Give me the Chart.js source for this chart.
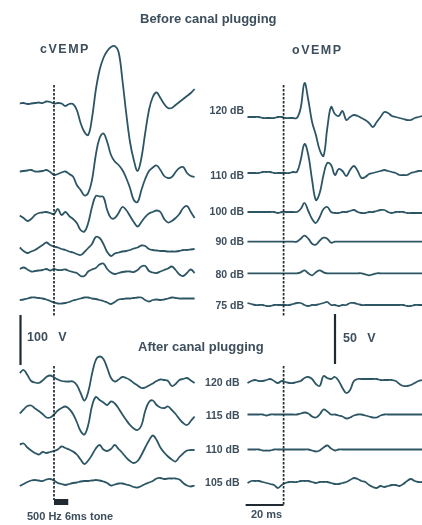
<!DOCTYPE html>
<html>
<head>
<meta charset="utf-8">
<script src="https://cdn.jsdelivr.net/npm/chart.js@4.4.1/dist/chart.umd.min.js"></script>
<style>
  body { margin: 0; background: #fff; }
  #wrap { position: relative; width: 422px; height: 525px; overflow: hidden;
    font-family: "Liberation Sans", Arial, sans-serif; color: #3d4e5c; font-weight: bold; }
  #wrap canvas { position: absolute; left: 0; top: 0; }
  .t { position: absolute; white-space: pre; line-height: 1; transform: translateY(-50%); }
  .r { text-align: right; transform: translate(-100%, -50%); }
  .h { font-size: 13px; }
  .p { font-size: 12.5px; letter-spacing: 1.5px; }
  .db { font-size: 10.5px; }
  .sc { font-size: 12.5px; }
  .sm { font-size: 11px; }
</style>
</head>
<body>
<div id="wrap">
  <canvas id="vemp" width="422" height="525"></canvas>
  <div class="t h" style="left:140px;top:18px">Before canal plugging</div>
  <div class="t p" style="left:40px;top:49px">cVEMP</div>
  <div class="t p" style="left:292px;top:50px">oVEMP</div>
  <div id="dbBefore"></div>
  <div id="dbAfter"></div>
  <div class="t sc" style="left:27px;top:337px">100   V</div>
  <div class="t sc" style="left:343px;top:338px">50   V</div>
  <div class="t h" style="left:138px;top:346px">After canal plugging</div>
  <div class="t sm" style="left:27px;top:516px">500 Hz 6ms tone</div>
  <div class="t sm" style="left:251px;top:514px">20 ms</div>
</div>
<script>
'use strict';

// stimulus levels (dB)
var levelsBefore = ['120 dB', '110 dB', '100 dB', '90 dB', '80 dB', '75 dB'];
var levelsAfter = ['120 dB', '115 dB', '110 dB', '105 dB'];

// sampling of the traces, ms
var stepMs = 2;
var cStartMs = -18;
var oStartMs = -19;

// cVEMP, before plugging (uV)
var c120 = [0,1,-1,0,1,2,1,4,3,0,1,0,-5,-1,-1,-13,-39,-57,-63,-29,27,67,91,105,113,115,103,47,-19,-77,-113,-135,-109,-59,-13,13,22,11,-1,-9,-9,-3,3,9,15,21,29];
var c110 = [3,4,5,6,3,3,4,6,2,-4,-2,1,3,-2,-7,-24,-34,-45,-40,-14,36,70,79,62,36,23,16,6,-10,-30,-54,-58,-34,-12,4,11,15,6,-6,-10,-8,2,10,12,0,-6,-8];
var c100 = [-1,-6,-12,-8,0,4,5,6,4,2,12,0,6,-2,-8,-16,-30,-33,-16,16,38,37,36,10,-6,-6,4,16,10,-2,-14,-23,-14,-4,3,6,9,6,-8,-15,-12,-6,2,14,18,6,-6];
var c90 = [3,-4,-8,-5,-2,3,8,13,8,5,3,0,-2,-5,-7,-10,-12,-6,2,10,24,22,10,-6,-14,-9,-7,-5,-4,-2,1,3,7,6,0,-2,-3,-4,-4,-5,-5,-5,-4,-2,-2,-1,0];
var c80 = [2,5,1,-3,-2,-1,0,2,-1,2,0,0,1,-2,-4,-6,-12,-12,-3,1,4,11,13,2,-5,-8,-6,-4,-3,-3,-4,0,7,8,-2,-5,-6,-3,0,3,7,0,-9,-12,-6,1,-6];
var c75 = [0,1,3,5,5,4,3,1,-2,-5,-7,-7,-6,-4,-1,1,3,5,5,3,2,0,-2,-5,-8,-4,1,2,3,3,4,5,5,0,-3,0,1,0,1,3,5,4,3,3,3,3,3];

// cVEMP, after plugging (uV)
var cA120 = [10,16,6,-6,-9,-10,-5,2,5,1,-3,-6,-7,-7,-7,-14,-30,-45,-28,8,36,43,38,20,0,-7,-3,2,0,-4,-10,-15,-20,-19,-15,-11,-6,-3,-4,-6,-16,-12,-4,-2,0,-5,-10];
var cA115 = [-3,5,12,13,7,2,-4,-11,-11,-5,3,8,11,6,-4,-20,-38,-45,-26,12,30,24,19,14,21,17,7,-5,-16,-26,-33,-36,-27,2,20,23,14,9,8,11,4,-4,-14,-22,-26,-18,-9];
var cA110 = [11,13,5,-1,-6,-9,-4,-6,-4,-2,1,7,4,1,-3,-9,-19,-28,-21,-10,3,10,1,-2,2,10,2,-6,-15,-22,-26,-22,-10,5,19,29,20,5,-5,-13,-19,-23,-14,-7,-1,0,0];
var cA105 = [-8,-4,0,3,4,3,2,5,6,3,-2,-4,-6,-4,-2,-1,1,2,2,3,4,3,1,-2,-7,-5,-3,-3,-5,-7,-10,-11,-8,-4,-1,2,7,8,6,7,7,7,5,-2,-7,-9,-7];

// oVEMP, before plugging (uV)
var o120 = [1,1,1,1,0,0,0,0,1,1,0,0,0,0,10,35,18,-4,-17,-32,-38,-10,11,4,2,7,-2,1,3,2,0,-2,-5,-9,-4,1,6,5,2,1,0,-1,-2,-2,0,1,2];
var o110 = [0,0,0,0,1,1,1,0,0,0,0,0,1,1,13,29,18,-7,-27,-20,-2,10,8,-2,4,2,-3,3,7,2,-5,-4,-1,0,1,2,3,2,1,0,-2,-2,-2,0,1,2,2];
var o100 = [0,0,0,0,0,0,0,0,-1,0,0,0,0,0,3,9,1,-7,-11,-5,3,5,0,-1,-1,0,0,1,2,0,-1,-1,0,0,1,2,2,0,-1,0,0,0,-1,-1,-1,-1,-1];
var o90 = [0,0,0,0,0,0,0,0,0,0,0,0,0,0,3,6,3,-2,-3,1,4,3,-1,0,0,0,0,0,0,0,0,0,0,0,0,0,0,0,0,0,0,0,0,0,0,0,0];
var o80 = [0,0,0,0,0,0,0,0,0,0,0,0,0,0,1,3,0,-2,1,3,1,0,0,0,0,0,0,0,0,0,0,-1,-2,-1,0,0,0,0,0,0,0,0,0,0,0,0,0];
var o75 = [2,1,0,0,0,-1,-1,0,0,0,0,0,1,2,2,0,-1,0,0,1,2,3,0,0,-1,0,0,2,2,1,0,0,0,0,0,0,0,0,0,0,0,0,-1,-1,0,0,0];

// oVEMP, after plugging (uV)
var oA120 = [-2,0,1,0,0,1,2,0,-2,0,-1,-2,-2,-1,0,3,4,2,-3,-5,5,3,2,4,0,-7,-12,-9,0,2,2,2,2,2,2,1,1,1,1,0,-3,-5,-5,-4,-2,0,1];
var oA115 = [0,0,0,0,0,-1,0,0,0,0,0,0,0,0,1,2,1,-2,-3,0,5,3,0,0,-1,-2,-4,-3,-1,0,0,-1,-2,-3,-3,-1,0,0,0,0,0,0,0,0,0,0,0];
var oA110 = [0,0,0,0,-1,-1,-1,0,0,0,0,0,0,0,0,0,0,-1,-2,-1,2,4,1,-1,0,0,0,0,0,0,0,0,0,0,0,0,0,0,0,0,0,0,0,0,0,0,0];
var oA105 = [-1,1,1,1,0,-1,-2,-3,-6,-3,-1,0,0,0,1,1,1,0,-1,0,0,0,-1,-2,-2,-1,0,2,4,3,1,0,-3,-5,-6,-4,-5,-4,-3,-3,-4,-2,1,3,1,0,0];

var cTraces = [c120, c110, c100, c90, c80, c75, cA120, cA115, cA110, cA105];
var oTraces = [o120, o110, o100, o90, o80, o75, oA120, oA115, oA110, oA105];

// scale bars
var cBarUv = 100;
var oBarUv = 50;
var timeBarMs = 20;
var toneBarMs = 7.5;

// page layout (px)
var W = 422, H = 525;
var msPx = 1.9;
var cOnsetPx = 54, oOnsetPx = 283.6;
var cUvPerPx = 2, oUvPerPx = 1;
var cRows = [103.5, 173, 215, 249, 270, 300, 378, 412, 450, 482];
var oRows = [118, 173, 212, 241.7, 273.3, 305, 381, 414.5, 449.5, 482];
var dbRowsBefore = [110, 175, 211, 240.5, 273.5, 305];
var dbRowsAfter = [381.5, 415, 448.5, 481.5];
var onsetSegsC = [[85, 316], [366, 500]];
var onsetSegsO = [[85, 316], [366, 506]];

var TRACE = '#2c5664';
var INK = '#1f2a33';

function traceSet(values, startMs, rowPx, uvPerPx, xId, yId) {
  return {
    data: values.map(function (v, k) {
      return { x: startMs + k * stepMs, y: v - rowPx * uvPerPx };
    }),
    xAxisID: xId,
    yAxisID: yId,
    borderColor: TRACE,
    borderWidth: 1.8,
    pointRadius: 0,
    tension: 0.4,
    fill: false
  };
}

var datasets = [];
cTraces.forEach(function (vals, i) {
  datasets.push(traceSet(vals, cStartMs, cRows[i], cUvPerPx, 'xC', 'yC'));
});
oTraces.forEach(function (vals, i) {
  datasets.push(traceSet(vals, oStartMs, oRows[i], oUvPerPx, 'xO', 'yO'));
});

var marks = {
  id: 'marks',
  afterDatasetsDraw: function (chart) {
    var c = chart.ctx, s = chart.scales;
    c.save();
    c.strokeStyle = INK;
    c.fillStyle = INK;

    // stimulus onset
    c.lineWidth = 1.7;
    c.setLineDash([2.4, 1.6]);
    [[s.xC, onsetSegsC], [s.xO, onsetSegsO]].forEach(function (p) {
      var x = p[0].getPixelForValue(0);
      p[1].forEach(function (seg) {
        c.beginPath(); c.moveTo(x, seg[0]); c.lineTo(x, seg[1]); c.stroke();
      });
    });
    c.setLineDash([]);

    // amplitude bars
    c.lineWidth = 2.2;
    var cLen = s.yC.getPixelForValue(-cBarUv) - s.yC.getPixelForValue(0);
    c.beginPath(); c.moveTo(20.5, 315); c.lineTo(20.5, 315 + cLen); c.stroke();
    var oLen = s.yO.getPixelForValue(-oBarUv) - s.yO.getPixelForValue(0);
    c.beginPath(); c.moveTo(335, 314); c.lineTo(335, 314 + oLen); c.stroke();

    // time bar
    c.beginPath();
    c.moveTo(s.xO.getPixelForValue(-timeBarMs), 505);
    c.lineTo(s.xO.getPixelForValue(0), 505);
    c.stroke();

    // tone
    var t0 = s.xC.getPixelForValue(0);
    c.fillRect(t0, 499, s.xC.getPixelForValue(toneBarMs) - t0, 6);
    c.restore();
  }
};

new Chart(document.getElementById('vemp'), {
  type: 'line',
  data: { datasets: datasets },
  options: {
    responsive: false,
    animation: false,
    devicePixelRatio: 1,
    layout: { padding: 0 },
    plugins: { legend: { display: false }, tooltip: { enabled: false } },
    scales: {
      xC: { type: 'linear', display: false, min: -cOnsetPx / msPx, max: (W - cOnsetPx) / msPx },
      xO: { type: 'linear', display: false, min: -oOnsetPx / msPx, max: (W - oOnsetPx) / msPx },
      yC: { type: 'linear', display: false, min: -H * cUvPerPx, max: 0 },
      yO: { type: 'linear', display: false, min: -H * oUvPerPx, max: 0 }
    }
  },
  plugins: [marks]
});

function dbLabels(id, labels, rows, rightPx) {
  var box = document.getElementById(id);
  labels.forEach(function (txt, i) {
    var d = document.createElement('div');
    d.className = 't db r';
    d.style.left = rightPx + 'px';
    d.style.top = rows[i] + 'px';
    d.textContent = txt;
    box.appendChild(d);
  });
}
dbLabels('dbBefore', levelsBefore, dbRowsBefore, 244);
dbLabels('dbAfter', levelsAfter, dbRowsAfter, 239.5);
</script>
</body>
</html>
